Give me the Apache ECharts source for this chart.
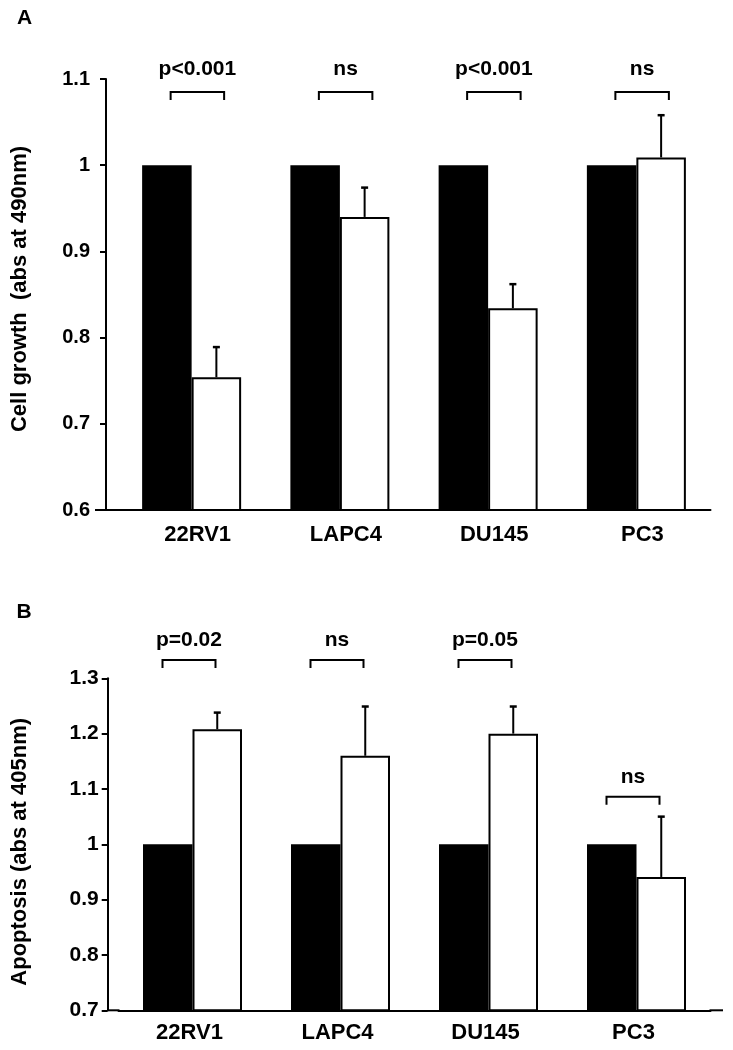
<!DOCTYPE html>
<html><head><meta charset="utf-8">
<script src="https://cdn.jsdelivr.net/npm/echarts@6/dist/echarts.min.js"></script>
<style>html,body{margin:0;padding:0;background:#fff}#c{width:733px;height:1050px}</style>
</head><body><div id="c"></div>
<script>
// ---- data ----
const categories = ['22RV1', 'LAPC4', 'DU145', 'PC3'];
const growthControl = [1, 1, 1, 1];
const growthTreated = [0.754, 0.940, 0.834, 1.009];
const growthErr = [0.035, 0.034, 0.028, 0.049];
const growthSig = ['p<0.001', 'ns', 'p<0.001', 'ns'];
const growthBracket = [1.085, 1.085, 1.085, 1.085];
const apopControl = [1, 1, 1, 1];
const apopTreated = [1.208, 1.160, 1.200, 0.941];
const apopErr = [0.030, 0.089, 0.049, 0.109];
const apopSig = ['p=0.02', 'ns', 'p=0.05', 'ns'];
const apopBracket = [1.333, 1.333, 1.333, 1.086];
const growthAxis = { min: 0.6, max: 1.1, interval: 0.1 };
const apopAxis = { min: 0.7, max: 1.3, interval: 0.1 };
const growthTitle = 'Cell growth  (abs at 490nm)';
const apopTitle = 'Apoptosis (abs at 405nm)';

// ---- style / layout ----
const FONT = 'Liberation Sans, Arial, sans-serif';
const BAR_W = 49.5;
const CAP = 3.5;
const LEG = 8;
const GA = { left: 117.5, top: 79, width: 593, height: 431, yOff: 11.5 };
const GB = { left: 118.5, top: 678.3, width: 592, height: 332, yOff: 10.8 };

const chart = echarts.init(document.getElementById('c'), null, { renderer: 'canvas' });

function errRender(params, api) {
  const i = api.value(0), v = api.value(1), e = api.value(2);
  const b = api.coord([i, v]);
  const t = api.coord([i, v + e]);
  const x = b[0] + BAR_W / 2;
  return {
    type: 'group', children: [
      { type: 'line', shape: { x1: x, y1: b[1], x2: x, y2: t[1] }, style: { stroke: '#000', lineWidth: 2 } },
      { type: 'line', shape: { x1: x - CAP, y1: t[1], x2: x + CAP, y2: t[1] }, style: { stroke: '#000', lineWidth: 2.5 } }
    ]
  };
}
function bracketRender(sig, offL, offR, textOff) {
  return function (params, api) {
    const i = api.value(0), v = api.value(1);
    const p = api.coord([i, v]);
    const x0 = p[0] + offL, x1 = p[0] + offR, y = p[1];
    return {
      type: 'group', children: [
        { type: 'polyline', shape: { points: [[x0, y + LEG], [x0, y], [x1, y], [x1, y + LEG]] },
          style: { stroke: '#000', lineWidth: 2, fill: 'none' } },
        { type: 'text', x: (x0 + x1) / 2, y: y + textOff,
          style: { text: sig[params.dataIndex], font: 'bold 21px ' + FONT, fill: '#000', align: 'center', verticalAlign: 'middle' } }
      ]
    };
  };
}

function yAxisCfg(gi, ax, off, fs, margin, name, gap, pad) {
  return {
    type: 'value', gridIndex: gi, min: ax.min, max: ax.max, interval: ax.interval, offset: off,
    axisLine: { show: true, lineStyle: { color: '#000', width: 2 } },
    axisTick: { show: true, length: 6, lineStyle: { color: '#000', width: 2 } },
    axisLabel: { color: '#000', fontSize: fs, fontWeight: 'bold', fontFamily: FONT, margin: margin },
    splitLine: { show: false },
    name: name, nameLocation: 'middle', nameGap: gap,
    nameTextStyle: { color: '#000', fontSize: 22, fontWeight: 'bold', fontFamily: FONT, padding: pad }
  };
}
function xAxisCfg(gi, margin, pad) {
  return {
    type: 'category', gridIndex: gi, data: categories,
    axisLine: { show: true, lineStyle: { color: '#000', width: 2 } },
    axisTick: { show: false },
    axisLabel: { color: '#000', fontSize: 22, fontWeight: 'bold', fontFamily: FONT, margin: margin, padding: pad }
  };
}

const option = {
  animation: false,
  backgroundColor: '#fff',
  grid: [
    { left: GA.left, top: GA.top, width: GA.width, height: GA.height },
    { left: GB.left, top: GB.top, width: GB.width, height: GB.height }
  ],
  xAxis: [xAxisCfg(0, 14, [0, 0, 0, 12]), xAxisCfg(1, 12, [0, 6, 0, 0])],
  yAxis: [
    yAxisCfg(0, growthAxis, GA.yOff, 20, 16, growthTitle, 75, [0, 0, 0, 11]),
    yAxisCfg(1, apopAxis, GB.yOff, 21, 9, apopTitle, 77, [0, 15, 0, 0])
  ],
  series: [
    { type: 'bar', xAxisIndex: 0, yAxisIndex: 0, data: growthControl, barWidth: BAR_W, barGap: '0%',
      itemStyle: { color: '#000' } },
    { type: 'bar', xAxisIndex: 0, yAxisIndex: 0, data: growthTreated, barWidth: BAR_W, barGap: '0%',
      itemStyle: { color: '#fff', borderColor: '#000', borderWidth: 2 } },
    { type: 'custom', xAxisIndex: 0, yAxisIndex: 0, renderItem: errRender, z: 5,
      data: categories.map((c, i) => [i, growthTreated[i], growthErr[i]]) },
    { type: 'custom', xAxisIndex: 0, yAxisIndex: 0, renderItem: bracketRender(growthSig, -21, 32.5, -23), z: 5,
      clip: false, data: categories.map((c, i) => [i, growthBracket[i]]) },
    { type: 'bar', xAxisIndex: 1, yAxisIndex: 1, data: apopControl, barWidth: BAR_W, barGap: '0%',
      itemStyle: { color: '#000' } },
    { type: 'bar', xAxisIndex: 1, yAxisIndex: 1, data: apopTreated, barWidth: BAR_W, barGap: '0%',
      itemStyle: { color: '#fff', borderColor: '#000', borderWidth: 2 } },
    { type: 'custom', xAxisIndex: 1, yAxisIndex: 1, renderItem: errRender, z: 5,
      data: categories.map((c, i) => [i, apopTreated[i], apopErr[i]]) },
    { type: 'custom', xAxisIndex: 1, yAxisIndex: 1, renderItem: bracketRender(apopSig, -30, 23, -19.5), z: 5,
      clip: false, data: categories.map((c, i) => [i, apopBracket[i]]) }
  ]
};
chart.setOption(option);

// axis baseline extensions and panel letters
const yA = chart.convertToPixel({ yAxisIndex: 0 }, growthAxis.min);
const yB = chart.convertToPixel({ yAxisIndex: 1 }, apopAxis.min);
const axA = GA.left - GA.yOff, axB = GB.left - GB.yOff;
chart.setOption({
  graphic: [
    { type: 'line', shape: { x1: axA - 11, y1: yA, x2: GA.left + 1, y2: yA }, style: { stroke: '#000', lineWidth: 2 } },
    { type: 'line', shape: { x1: axB, y1: yB, x2: GB.left + 1, y2: yB }, style: { stroke: '#000', lineWidth: 2 } },
    { type: 'line', shape: { x1: GB.left + GB.width - 1, y1: yB, x2: 723, y2: yB }, style: { stroke: '#000', lineWidth: 2 } },
    { type: 'text', x: 24.5, y: 18.5, style: { text: 'A', font: 'bold 21px ' + FONT, fill: '#000', align: 'center', verticalAlign: 'middle' } },
    { type: 'text', x: 24, y: 612.5, style: { text: 'B', font: 'bold 21px ' + FONT, fill: '#000', align: 'center', verticalAlign: 'middle' } }
  ]
});
</script>
</body></html>
